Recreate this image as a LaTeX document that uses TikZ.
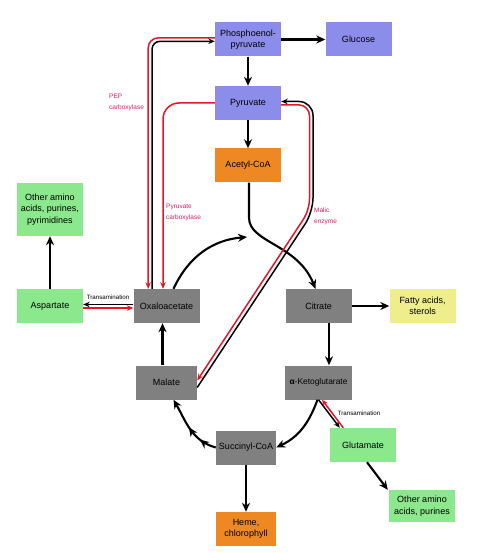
\documentclass[tikz,border=0pt]{standalone}
\usepackage{fontspec}
\setmainfont{Liberation Sans}
\usetikzlibrary{arrows.meta,decorations.markings}
\definecolor{pblue}{RGB}{140,140,235}
\definecolor{porange}{RGB}{238,136,34}
\definecolor{pgreen}{RGB}{140,232,140}
\definecolor{pgray}{RGB}{128,128,128}
\definecolor{pyellow}{RGB}{238,238,140}
\definecolor{pred}{RGB}{232,20,40}
\definecolor{ppink}{RGB}{220,30,100}
\begin{document}
\begin{tikzpicture}[x=1pt,y=-1pt,
  box/.style={minimum width=66pt,minimum height=34pt,inner sep=1pt,align=center,font=\fontsize{9}{11.5}\selectfont},
  bluebox/.style={box,fill=pblue},
  orbox/.style={box,fill=porange},
  grbox/.style={box,fill=pgreen},
  gybox/.style={box,fill=pgray},
  yebox/.style={box,fill=pyellow},
  arr/.style={line width=2.1pt,-{Stealth[length=9pt,width=8pt]}},
  blkl/.style={line width=1.5pt,-{Stealth[length=6.5pt,width=5.5pt]}},
  redl/.style={line width=1.5pt,draw=pred,-{Stealth[length=6.5pt,width=5.5pt]}},
  lab/.style={text=ppink,align=left,inner sep=0pt,font=\fontsize{6.5}{10.5}\selectfont},
  tlab/.style={inner sep=0pt,font=\fontsize{6.2}{8}\selectfont}
]
\fill[white] (0,0) rectangle (479,553);
\useasboundingbox (0,0) rectangle (479,553);

\node[bluebox] (PEP) at (248,39.5) {Phosphoenol-\\pyruvate};
\node[bluebox] (Glc) at (358.5,39.5) {Glucose};
\node[bluebox] (Pyr) at (248,103) {Pyruvate};
\node[orbox] (Ac) at (248,165.5) {Acetyl-CoA};
\node[grbox,minimum height=53pt] (OA1) at (50,209.5) {Other amino\\acids, purines,\\pyrimidines};
\node[grbox] (Asp) at (50,306) {Aspartate};
\node[gybox] (OAA) at (166.5,306) {Oxaloacetate};
\node[gybox] (Cit) at (318.5,306) {Citrate};
\node[yebox] (FA) at (422.5,306) {Fatty acids,\\sterols};
\node[gybox,minimum width=61pt] (Mal) at (166.5,382.5) {Malate};
\node[gybox,minimum width=67pt,font=\fontsize{8.4}{10}\selectfont] (AKG) at (318.5,382.5) {{\bfseries α}-Ketoglutarate};
\node[gybox,minimum width=60pt] (Suc) at (246,447.5) {Succinyl-CoA};
\node[grbox] (Glu) at (363,445) {Glutamate};
\node[grbox,minimum height=32pt] (OA2) at (422,506) {Other amino\\acids, purines};
\node[orbox,minimum width=60pt] (Heme) at (246,529) {Heme,\\chlorophyll};

\coordinate (cyc) at (247,237);

% straight black arrows
\draw[arr] (PEP) -- (Glc);
\draw[arr] (PEP) -- (Pyr);
\draw[arr] (Pyr) -- (Ac);
\draw[arr] (Cit) -- (FA);
\draw[arr] (Asp) -- (OA1);
\draw[arr] (Suc) -- (Heme);
\draw[arr] ([xshift=10.5pt]Cit.south) -- ([xshift=10.5pt]AKG.north);
\draw[arr] ([xshift=-4pt]Mal.north) -- ([xshift=-4pt]OAA.south);
\draw[arr] ([xshift=4pt]Glu.south) -- ([xshift=-1pt]OA2.north west);

% cycle curves
\draw[arr] ([xshift=7pt]OAA.north) to[out=65,in=185] (cyc);
\draw[arr] ([xshift=1pt]Ac.south) -- ++(0,35) .. controls +(0,25) and +(-18,-45) .. ([xshift=-3pt]Cit.north);
\draw[arr] ([xshift=-1pt]AKG.south) to[out=-110,in=25] (Suc.east);
\draw[arr,postaction={decorate},decoration={markings,
   mark=at position 0.27 with {\arrow{Stealth[length=9pt,width=8pt]}},
   mark=at position 0.52 with {\arrow{Stealth[length=9pt,width=8pt]}}}]
   (Suc.west) to[out=165,in=-60] ([xshift=7pt]Mal.south);

% PEP carboxylase pair
\draw[redl,rounded corners=10pt] ([yshift=1.6pt]PEP.west) -| ([xshift=-18.3pt]OAA.north);
\draw[blkl,rounded corners=8pt] ([xshift=-14.5pt]OAA.north) |- ([yshift=-1.8pt]PEP.west);
% Pyruvate carboxylase
\draw[redl,rounded corners=16pt] (Pyr.west) -| ([xshift=-3.5pt]OAA.north);
% Malic enzyme pair
\draw[blkl,rounded corners=14pt] ([yshift=-5pt]Mal.east) -- (313,212) -- (313,101.5) -- ([yshift=1.5pt]Pyr.east);
\draw[redl,rounded corners=11pt] ([yshift=-1.8pt]Pyr.east) -- (309.5,104.8) -- (309.5,210) -- ([yshift=2pt]Mal.east);

% transaminations
\draw[blkl] ([yshift=1.5pt]OAA.west) -- ([yshift=1.5pt]Asp.east);
\draw[redl] ([yshift=-2pt]Asp.east) -- ([yshift=-2pt]OAA.west);
\draw[blkl] (AKG.south) -- ([xshift=10pt]Glu.north west);
\draw[redl] ([xshift=13.5pt]Glu.north west) -- ([xshift=3.5pt]AKG.south);

% labels
\node[tlab] (tr1) at (108,297.5) {Transamination};
\node[tlab] (tr2) at (359,413) {Transamination};
\node[lab,anchor=north west] (lPEP) at (109,94) {PEP\\carboxylase};
\node[lab,anchor=north west] (lPC) at (166,204) {Pyruvate\\carboxylase};
\node[lab,anchor=north west] (lME) at (314,208) {Malic\\enzyme};
\end{tikzpicture}
\end{document}
